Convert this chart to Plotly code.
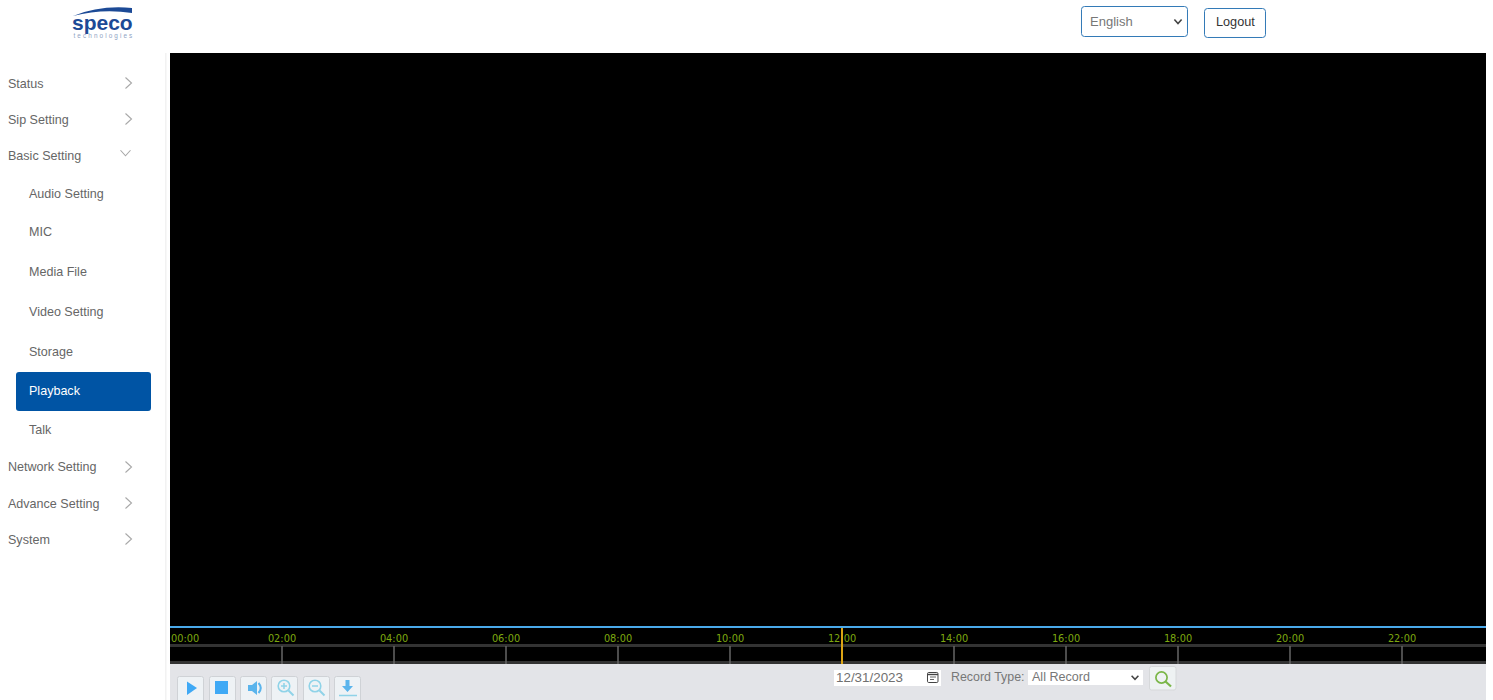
import plotly.graph_objects as go

W, H = 1493, 700
SANS = "Liberation Sans"
MENU = 12.55

# ---- content ----
main_menu = ["Status", "Sip Setting", "Basic Setting", "Network Setting", "Advance Setting", "System"]
main_menu_y = [83.5, 119.5, 155.5, 467.5, 503.5, 539.5]
sub_menu = ["Audio Setting", "MIC", "Media File", "Video Setting", "Storage", "Playback", "Talk"]
sub_menu_y = [193.5, 232.5, 271.5, 311.5, 351.5, 390.5, 429.5]
tick_hours = [2, 4, 6, 8, 10, 12, 14, 16, 18, 20, 22]
tick_labels = ["02:00", "04:00", "06:00", "08:00", "10:00", "12:00", "14:00", "16:00", "18:00", "20:00", "22:00"]
first_label = "00:00"
cursor_hour = [12, 12]
cursor_span = [0, 36]
visible_hours = [0, 23.5]
band_levels = [1.6, 18.6]
tick_span = [0, 18]

shapes, annos = [], []
px = lambda x: x / W
py = lambda y: 1 - y / H


def rect(x0, y0, x1, y1, fill, line=None, lw=1, layer="below"):
    shapes.append(dict(type="rect", xref="paper", yref="paper", x0=px(x0), x1=px(x1), y0=py(y1), y1=py(y0),
                       fillcolor=fill, line=dict(color=line or fill, width=lw if line else 0), layer=layer))


def path(cmds, fill=None, line=None, lw=1, layer="above"):
    out = []
    for c in cmds:
        if isinstance(c, str):
            out.append(c)
        else:
            out.append(f"{px(c[0]):.6f},{py(c[1]):.6f}")
    shapes.append(dict(type="path", xref="paper", yref="paper", path=" ".join(out),
                       fillcolor=fill or "rgba(0,0,0,0)", line=dict(color=line or "rgba(0,0,0,0)", width=lw if line else 0),
                       layer=layer))


def rrect(x0, y0, x1, y1, r, fill, line=None, lw=1, layer="below"):
    path(["M", (x0 + r, y0), "L", (x1 - r, y0), "Q", (x1, y0), (x1, y0 + r), "L", (x1, y1 - r), "Q", (x1, y1), (x1 - r, y1),
          "L", (x0 + r, y1), "Q", (x0, y1), (x0, y1 - r), "L", (x0, y0 + r), "Q", (x0, y0), (x0 + r, y0), "Z"],
         fill, line, lw, layer)


def text(t, x, y, size=MENU, color="#666666", anchor="left", family=SANS, bold=False):
    annos.append(dict(text=f"<b>{t}</b>" if bold else t, x=px(x), y=py(y), xref="paper", yref="paper", showarrow=False,
                      xanchor=anchor, yanchor="middle", font=dict(family=family, size=size, color=color),
                      borderpad=0, borderwidth=0))


def chevron_right(x, y, c="#a8a8a8"):
    path(["M", (x - 3, y - 5.5), "L", (x + 3, y), "L", (x - 3, y + 5.5)], None, c, 1.1)


def chevron_down(x, y, c="#a8a8a8", s=5, lw=1.1):
    path(["M", (x - s, y - s * .55), "L", (x, y + s * .55), "L", (x + s, y - s * .55)], None, c, lw)


def circle(cx, cy, r, line, lw, fill=None):
    shapes.append(dict(type="circle", xref="paper", yref="paper", x0=px(cx - r), x1=px(cx + r), y0=py(cy + r), y1=py(cy - r),
                       fillcolor=fill or "rgba(0,0,0,0)", line=dict(color=line, width=lw), layer="above"))


def seg(x0, y0, x1, y1, c, lw):
    path(["M", (x0, y0), "L", (x1, y1)], None, c, lw)


# ---- page blocks ----
rect(165, 53, 166.5, 700, "#f2f2f2")              # sidebar separator
rect(170, 53, 1486, 664, "#000000")               # video
rect(170, 664, 1486, 700, "#e3e4e8")              # toolbar
rect(170, 626, 1486, 628, "#4aa9ea", layer="above")  # progress line

# ---- logo ----
path(["M", (73, 16), "Q", (100, 5), (132, 8), "L", (132, 13), "Q", (102, 8.5), (73, 16), "Z"], "#1c4a96")
text("speco", 71.5, 23, size=21, color="#1c4a96", family=SANS, bold=True)
text("technologies", 85.5, 35.5, size=6.4, color="#8fa3c4")

# ---- header controls ----
rrect(1081.5, 6.5, 1187.5, 36.5, 3, "#ffffff", "#337ab7", 1)
text("English", 1090, 21, size=13, color="#777777")
chevron_down(1178, 21.5, "#444444", 3.6, 1.6)
rrect(1204.5, 8.5, 1265.5, 37.5, 3, "#ffffff", "#337ab7", 1)
text("Logout", 1235, 22, color="#333333", anchor="center", size=12.7)

# ---- sidebar ----
rrect(16, 372, 151, 411, 3, "#0054a4")
for label, y in zip(main_menu, main_menu_y):
    text(label, 8, y)
    if label == "Basic Setting":
        chevron_down(125.5, 153)
    else:
        chevron_right(128.5, y - 0.5)
for label, y in zip(sub_menu, sub_menu_y):
    text(label, 29.2, y, color="#ffffff" if label == "Playback" else "#666666")

# ---- toolbar buttons ----
for x0 in (177, 209, 240, 271, 303, 334):
    rrect(x0 + .5, 676.5, x0 + 26.5, 703, 2, "#eef2f5", "#cfd2d6", 1, layer="above")
BLUE, PALE = "#3fa9f5", "#8fd3e8"
path(["M", (187, 681.5), "L", (197, 688), "L", (187, 695), "Z"], BLUE)
rect(215, 681, 228, 694, BLUE, layer="above")
path(["M", (248, 685), "L", (252, 685), "L", (257, 681), "L", (257, 695), "L", (252, 691), "L", (248, 691), "Z"], "#5ab4ec")
path(["M", (258.5, 683), "Q", (263, 688), (258.5, 693)], None, "#5ab4ec", 2)
for cx in (284, 315):
    circle(cx, 686, 5.8, PALE, 1.6)
    seg(cx + 4.5, 690.5, cx + 9.5, 695.5, PALE, 2)
    seg(cx - 3, 686, cx + 3, 686, PALE, 1.5)
seg(284, 683, 284, 689, PALE, 1.5)
path(["M", (345.5, 680), "L", (349.5, 680), "L", (349.5, 686), "L", (353, 686), "L", (347.5, 692), "L", (342, 686), "L", (345.5, 686), "Z"], "#5ab4ec")
seg(339, 695.5, 357, 695.5, PALE, 1.5)

# ---- search inputs ----
rect(834, 670, 941, 686, "#ffffff")
text("12/31/2023", 836, 677, size=13.4, color="#707070")
rrect(927.5, 672.5, 938, 682.5, 1.2, "#ffffff", "#444444", 1, layer="above")
seg(928, 674.5, 938, 674.5, "#444444", 1.4)
seg(930, 677, 936, 677, "#666666", 1)
seg(930, 679.5, 934, 679.5, "#666666", 1)
text("Record Type:", 951, 677, size=12.4, color="#777777")
rect(1028, 670, 1143, 685, "#ffffff")
text("All Record", 1032, 677, color="#777777")
chevron_down(1135, 677.5, "#444444", 3.4, 1.5)
rrect(1149.5, 666.5, 1176, 690, 2, "#eef2f3", "#d6d8da", 1, layer="above")
circle(1161.5, 677.5, 5.6, "#7ab648", 1.7)
seg(1165.5, 681.5, 1171, 686.5, "#7ab648", 2.2)

# ---- timeline (real axis in hours) ----
text(first_label, 170.5, 638.5, size=9.8, color="#7da80f", family="DejaVu Sans")

fig = go.Figure()
for level in band_levels:
    fig.add_trace(go.Scatter(x=visible_hours, y=[level, level], mode="lines",
                             line=dict(color="#333333", width=3), hoverinfo="skip", showlegend=False))
tick_x, tick_y = [], []
for h in tick_hours:
    tick_x += [h, h, None]
    tick_y += [tick_span[0], tick_span[1], None]
fig.add_trace(go.Scatter(x=tick_x, y=tick_y, mode="lines", line=dict(color="#666666", width=1.5),
                         hoverinfo="skip", showlegend=False))
fig.add_trace(go.Scatter(x=cursor_hour, y=cursor_span, mode="lines",
                         line=dict(color="#dca414", width=2), hoverinfo="skip", showlegend=False))
fig.update_layout(
    width=W, height=H, autosize=False, margin=dict(l=0, r=0, t=0, b=0, pad=0),
    paper_bgcolor="#ffffff", plot_bgcolor="rgba(0,0,0,0)", showlegend=False,
    shapes=shapes, annotations=annos,
    xaxis=dict(domain=[170 / W, 1486 / W], range=visible_hours, side="top", anchor="free", position=1 - 644 / H,
               fixedrange=True, tickmode="array", tickvals=tick_hours, ticktext=tick_labels, ticks="",
               showgrid=False, zeroline=False, layer="below traces", showline=False,
               tickfont=dict(family="DejaVu Sans", size=9.8, color="#7da80f"), tickangle=0),
    yaxis=dict(domain=[1 - 664 / H, 1 - 628 / H], range=[0, 36], visible=False, fixedrange=True),
)

js = """
document.body.style.margin='0';document.body.style.overflow='hidden';
document.querySelectorAll('text').forEach(function(t){if(t.textContent==='technologies'){t.setAttribute('letter-spacing','2.08px');}});
"""
fig.write_html("out.html", config=dict(displayModeBar=False, responsive=False), post_script=js)
